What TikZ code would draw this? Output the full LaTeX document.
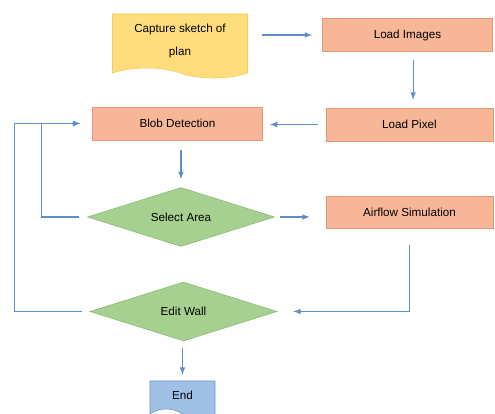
\documentclass[tikz,border=0pt]{standalone}
\usepackage{fontspec}
\setmainfont{Liberation Sans}
\usepackage{xcolor}
\usetikzlibrary{shapes.geometric,shapes.symbols}

\definecolor{boxfill}{RGB}{248,182,152}
\definecolor{boxline}{RGB}{232,150,115}
\definecolor{decfill}{RGB}{166,208,144}
\definecolor{decline}{RGB}{140,185,115}
\definecolor{docfill}{RGB}{255,221,125}
\definecolor{docline}{RGB}{245,200,90}
\definecolor{endfill}{RGB}{160,192,230}
\definecolor{endline}{RGB}{110,150,200}
\definecolor{flowblue}{RGB}{91,143,200}

\begin{document}
\begin{tikzpicture}[
        x=0.025cm, y=-0.025cm,
        process/.style={rectangle, draw=boxline, fill=boxfill, minimum width=4.25cm, minimum height=0.83cm, text centered, font=\fontsize{8.3}{10}\selectfont, align=center},
        decision/.style={diamond, draw=decline, fill=decfill, inner sep=0pt, aspect=3.17, minimum width=4.675cm, minimum height=1.475cm, text centered, font=\fontsize{8.3}{10}\selectfont},
        document/.style={tape, tape bend top=none, tape bend bottom=out and in, tape bend height=0.25cm, text centered, font=\fontsize{8.3}{10}\selectfont, align=center},
        arrow/.style={->, >=latex, draw=flowblue, line width=0.8pt}
    ]
        \useasboundingbox (0,0) rectangle (495,414);

        % ========== TOP ROW ==========
        \node[document, draw=docline, fill=docfill, minimum width=3.375cm, minimum height=1.6cm] (capture) at (180,41) {Capture sketch of\\[7pt]plan};
        \node[process] (loadImages) at (407.5,35) {Load Images};
        \node[process, minimum width=4.175cm] (loadPixel) at (409.5,124.5) {Load Pixel};

        % ========== MAIN COLUMN ==========
        \node[process] (blob) at (177.5,123.5) {Blob Detection};
        \node[decision] (selectArea) at (181,217) {Select Area};
        \node[process, minimum width=4.175cm, minimum height=0.8cm] (airflow) at (409.5,212) {Airflow Simulation};
        \node[decision] (editWall) at (183.5,311.5) {Edit Wall};
        \node[document, draw=endline, fill=endfill, minimum width=1.625cm, minimum height=0.95cm] (finish) at (182.5,395) {End};

        % ========== FLOW ==========
        \draw[arrow, shorten <=0.35cm, shorten >=0.25cm] (capture.east |- loadImages.west) -- (loadImages.west);
        \draw[arrow, shorten <=0.2cm, shorten >=0.2cm] ([xshift=0.14cm]loadImages.south) -- ([xshift=0.14cm]loadImages.south |- loadPixel.north);
        \draw[arrow, shorten <=0.2cm, shorten >=0.18cm] (loadPixel.west) -- (blob.east |- loadPixel.west);
        \draw[arrow, shorten <=0.25cm, shorten >=0.2cm] (selectArea.north |- blob.south) -- (selectArea.north);
        \draw[arrow, shorten <=0.12cm, shorten >=0.4cm] (selectArea.east) -- (airflow.west |- selectArea.east);
        \draw[arrow, shorten >=0.15cm] ([yshift=-0.42cm]airflow.south) |- ([xshift=0.25cm]editWall.east);
        \draw[arrow, shorten <=0.18cm, shorten >=0.15cm] (editWall.south -| finish.north) -- (finish.north);

        % ========== LOOPS BACK ==========
        \draw[arrow] ([xshift=-0.2cm]selectArea.west) -- ++(-0.95cm,0) |- ([xshift=-0.3cm]blob.west);
        \draw[arrow] ([xshift=-0.2cm]editWall.west) -- ++(-1.675cm,0) |- ([xshift=-0.3cm]blob.west);

    \end{tikzpicture}
\end{document}
